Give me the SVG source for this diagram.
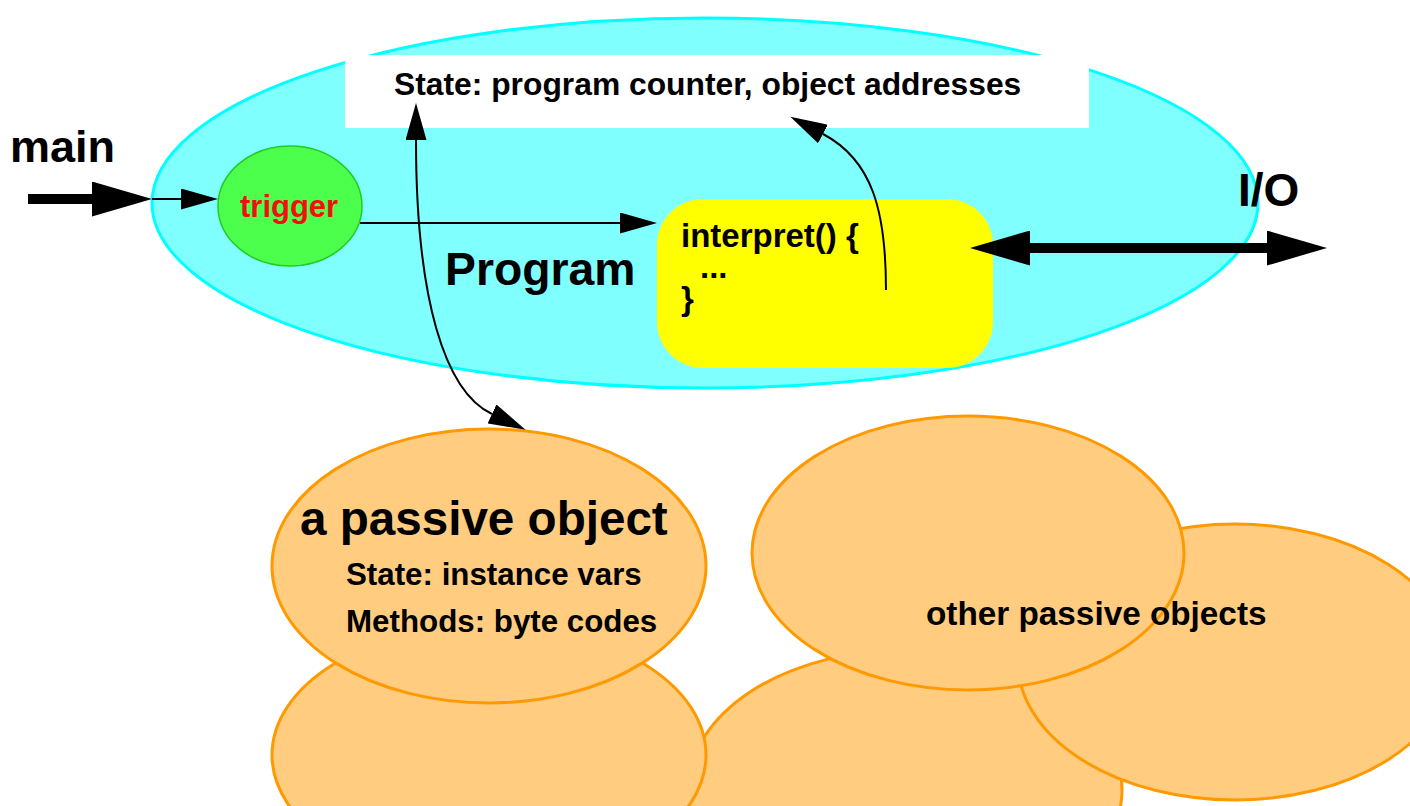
<svg xmlns="http://www.w3.org/2000/svg" width="1410" height="806" viewBox="0 0 1410 806">
<style>
text{font-family:"Liberation Sans",Arial,sans-serif;font-weight:bold;fill:#000}
.obj{fill:#ffcc80;stroke:#ff9900;stroke-width:3}
.thin{fill:none;stroke:#000;stroke-width:2}
.thick{fill:none;stroke:#000;stroke-width:10}
</style>
<defs>
<marker id="big" markerUnits="userSpaceOnUse" viewBox="0 0 60 35" markerWidth="60" markerHeight="35" refX="0" refY="17.5" orient="auto-start-reverse"><path d="M0,0 L60,17.5 L0,35 z" fill="#000"/></marker>
<marker id="small" markerUnits="userSpaceOnUse" viewBox="0 0 37 21" markerWidth="37" markerHeight="21" refX="0" refY="10.5" orient="auto-start-reverse"><path d="M0,0 L37,10.5 L0,21 z" fill="#000"/></marker>
</defs>
<rect width="1410" height="806" fill="#fff"/>
<g id="program">
<ellipse cx="705" cy="203" rx="553" ry="185" fill="#80ffff" stroke="#00ffff" stroke-width="3"/>
<text x="445" y="285" font-size="46.3">Program</text>
</g>
<g id="state">
<rect x="345" y="55" width="744" height="73" fill="#fff"/>
<text x="394" y="95" font-size="31.8">State: program counter, object addresses</text>
</g>
<g id="trigger">
<ellipse cx="290" cy="206" rx="72" ry="60" fill="#4cff4c" stroke="#22cc22" stroke-width="1.5"/>
<text x="240" y="217" font-size="31" style="fill:#f01010">trigger</text>
</g>
<g id="interpret">
<rect x="657" y="199" width="336" height="169" rx="46" ry="46" fill="#ffff00"/>
<text x="681" y="247" font-size="33">interpret() {<tspan x="700" y="278">...</tspan><tspan x="681" y="310">}</tspan></text>
</g>
<g id="main-label"><text x="10" y="162" font-size="45">main</text></g>
<g id="io-label"><text x="1238" y="206" font-size="46">I/O</text></g>
<g id="other-objects">
<ellipse class="obj" cx="905" cy="790" rx="217" ry="140"/>
<ellipse class="obj" cx="1235" cy="662" rx="217" ry="138"/>
<ellipse class="obj" cx="968" cy="553" rx="216" ry="137"/>
<text x="926" y="625" font-size="33.3">other passive objects</text>
</g>
<g id="passive-object">
<ellipse class="obj" cx="489" cy="755" rx="217" ry="130"/>
<ellipse class="obj" cx="489" cy="566" rx="217" ry="137"/>
<text x="300" y="535" font-size="47.6">a passive object</text>
<text x="346" y="585" font-size="31.3">State: instance vars</text>
<text x="346" y="632" font-size="31.3">Methods: byte codes</text>
</g>
<g id="connectors">
<line class="thick" x1="28" y1="199" x2="92" y2="199" marker-end="url(#big)"/>
<line class="thin" x1="152" y1="199" x2="181" y2="199" marker-end="url(#small)"/>
<line class="thin" x1="360" y1="223" x2="620" y2="223" marker-end="url(#small)"/>
<path class="thin" d="M886,290 C886,210 872,160 823,134" marker-end="url(#small)"/>
<path class="thin" d="M416,140 C416,300 445,392 492,414" marker-start="url(#small)" marker-end="url(#small)"/>
<line class="thick" x1="1030" y1="248" x2="1267" y2="248" marker-start="url(#big)" marker-end="url(#big)"/>
</g>
</svg>
